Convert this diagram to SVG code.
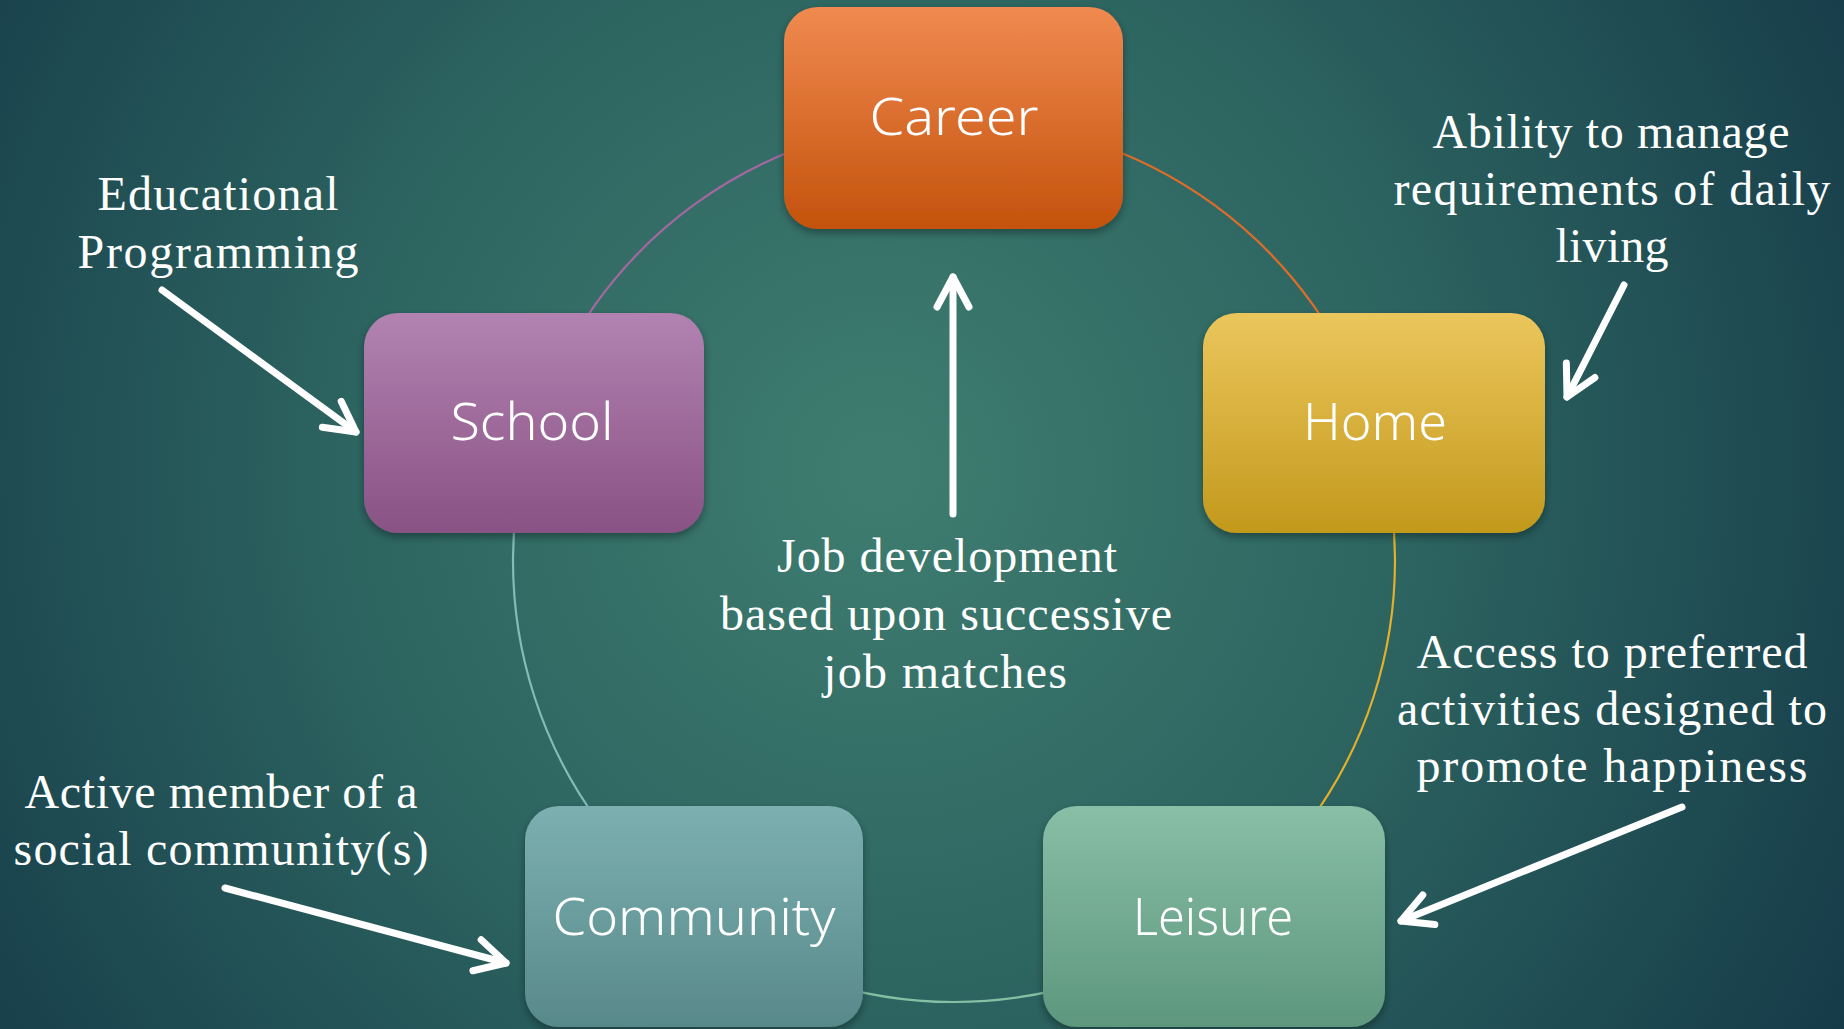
<svg xmlns="http://www.w3.org/2000/svg" width="1844" height="1029" viewBox="0 0 1844 1029">
  <defs>
    <radialGradient id="bg" gradientUnits="userSpaceOnUse" cx="880" cy="470" r="1150">
      <stop offset="0" stop-color="#3f7d70"/>
      <stop offset="0.45" stop-color="#2d6561"/>
      <stop offset="1" stop-color="#143847"/>
    </radialGradient>
    <linearGradient id="gCareer" x1="0" y1="0" x2="0" y2="1">
      <stop offset="0" stop-color="#f08a50"/>
      <stop offset="1" stop-color="#c4520c"/>
    </linearGradient>
    <linearGradient id="gSchool" x1="0" y1="0" x2="0" y2="1">
      <stop offset="0" stop-color="#b283b1"/>
      <stop offset="1" stop-color="#895284"/>
    </linearGradient>
    <linearGradient id="gHome" x1="0" y1="0" x2="0" y2="1">
      <stop offset="0" stop-color="#ebc65c"/>
      <stop offset="1" stop-color="#c3991c"/>
    </linearGradient>
    <linearGradient id="gCommunity" x1="0" y1="0" x2="0" y2="1">
      <stop offset="0" stop-color="#7cb0b0"/>
      <stop offset="1" stop-color="#58898a"/>
    </linearGradient>
    <linearGradient id="gLeisure" x1="0" y1="0" x2="0" y2="1">
      <stop offset="0" stop-color="#88bfa6"/>
      <stop offset="1" stop-color="#5d977d"/>
    </linearGradient>
    <filter id="shadow" x="-10%" y="-10%" width="120%" height="125%">
      <feDropShadow dx="0" dy="4" stdDeviation="4" flood-color="#000" flood-opacity="0.35"/>
    </filter>
    <marker id="chev" viewBox="-40 -24 48 48" markerWidth="48" markerHeight="48" refX="0" refY="0" orient="auto" markerUnits="userSpaceOnUse">
      <path d="M-30,-16 L0,0 L-30,16" fill="none" stroke="#fff" stroke-width="7" stroke-linecap="round" stroke-linejoin="round"/>
    </marker>
  </defs>
  <style>
    .box { filter: url(#shadow); }
    .label { font-family: "Noto Sans", Lato, "DejaVu Sans", sans-serif; font-weight: 350; font-size: 52px; fill: #fff; text-anchor: middle; }
    .note { font-family: "Liberation Serif", "DejaVu Serif", serif; font-size: 48px; fill: #fff; text-anchor: middle; }
    .ring { fill: none; stroke-width: 2.2; }
    .pointer { fill: none; stroke: #fff; stroke-width: 7; stroke-linecap: round; marker-end: url(#chev); }
  </style>

  <rect width="1844" height="1029" fill="url(#bg)"/>

  <!-- cycle ring: centre (954,561), radius 441 -->
  <g id="connectors">
    <path class="ring" stroke="#df6d2a" d="M954,120 A441,441 0 0 1 1373.4,424.7"/>
    <path class="ring" stroke="#e2b02c" d="M1373.4,424.7 A441,441 0 0 1 1213.2,917.8"/>
    <path class="ring" stroke="#84c0a4" d="M1213.2,917.8 A441,441 0 0 1 694.8,917.8"/>
    <path class="ring" stroke="#86baba" d="M694.8,917.8 A441,441 0 0 1 534.6,424.7"/>
    <path class="ring" stroke="#a468a0" d="M534.6,424.7 A441,441 0 0 1 954,120"/>

    <!-- annotation pointers -->
    <line class="pointer" x1="953" y1="514" x2="953" y2="277"/>
    <line class="pointer" x1="162" y1="290" x2="356" y2="432"/>
    <line class="pointer" x1="1624" y1="285" x2="1567" y2="397"/>
    <line class="pointer" x1="225" y1="888" x2="506" y2="963"/>
    <line class="pointer" x1="1682" y1="807" x2="1401" y2="921"/>
  </g>

  <g id="career">
    <rect class="box" x="784" y="7" width="339" height="222" rx="34" fill="url(#gCareer)"/>
    <text class="label" x="954" y="135" textLength="169" lengthAdjust="spacingAndGlyphs">Career</text>
  </g>
  <g id="school">
    <rect class="box" x="364" y="313" width="340" height="220" rx="34" fill="url(#gSchool)"/>
    <text class="label" x="532" y="440" textLength="163" lengthAdjust="spacingAndGlyphs">School</text>
  </g>
  <g id="home">
    <rect class="box" x="1203" y="313" width="342" height="220" rx="34" fill="url(#gHome)"/>
    <text class="label" x="1375" y="440" textLength="144" lengthAdjust="spacingAndGlyphs">Home</text>
  </g>
  <g id="community">
    <rect class="box" x="525" y="806" width="338" height="221" rx="34" fill="url(#gCommunity)"/>
    <text class="label" x="694" y="935" textLength="283" lengthAdjust="spacingAndGlyphs">Community</text>
  </g>
  <g id="leisure">
    <rect class="box" x="1043" y="806" width="342" height="221" rx="34" fill="url(#gLeisure)"/>
    <text class="label" x="1213" y="935" textLength="160" lengthAdjust="spacingAndGlyphs">Leisure</text>
  </g>

  <g id="note-school">
    <text class="note" x="218" y="210" textLength="241">Educational</text>
    <text class="note" x="218" y="268" textLength="281">Programming</text>
  </g>
  <g id="note-home">
    <text class="note" x="1611" y="148" textLength="357">Ability to manage</text>
    <text class="note" x="1612" y="205" textLength="437">requirements of daily</text>
    <text class="note" x="1612" y="262" textLength="113">living</text>
  </g>
  <g id="note-career">
    <text class="note" x="947" y="572" textLength="340">Job development</text>
    <text class="note" x="946" y="630" textLength="452">based upon successive</text>
    <text class="note" x="945" y="688" textLength="244">job matches</text>
  </g>
  <g id="note-community">
    <text class="note" x="221" y="808" textLength="393">Active member of a</text>
    <text class="note" x="221" y="865" textLength="415">social community(s)</text>
  </g>
  <g id="note-leisure">
    <text class="note" x="1612" y="668" textLength="391">Access to preferred</text>
    <text class="note" x="1612" y="725" textLength="430">activities designed to</text>
    <text class="note" x="1612" y="782" textLength="391">promote happiness</text>
  </g>
</svg>
